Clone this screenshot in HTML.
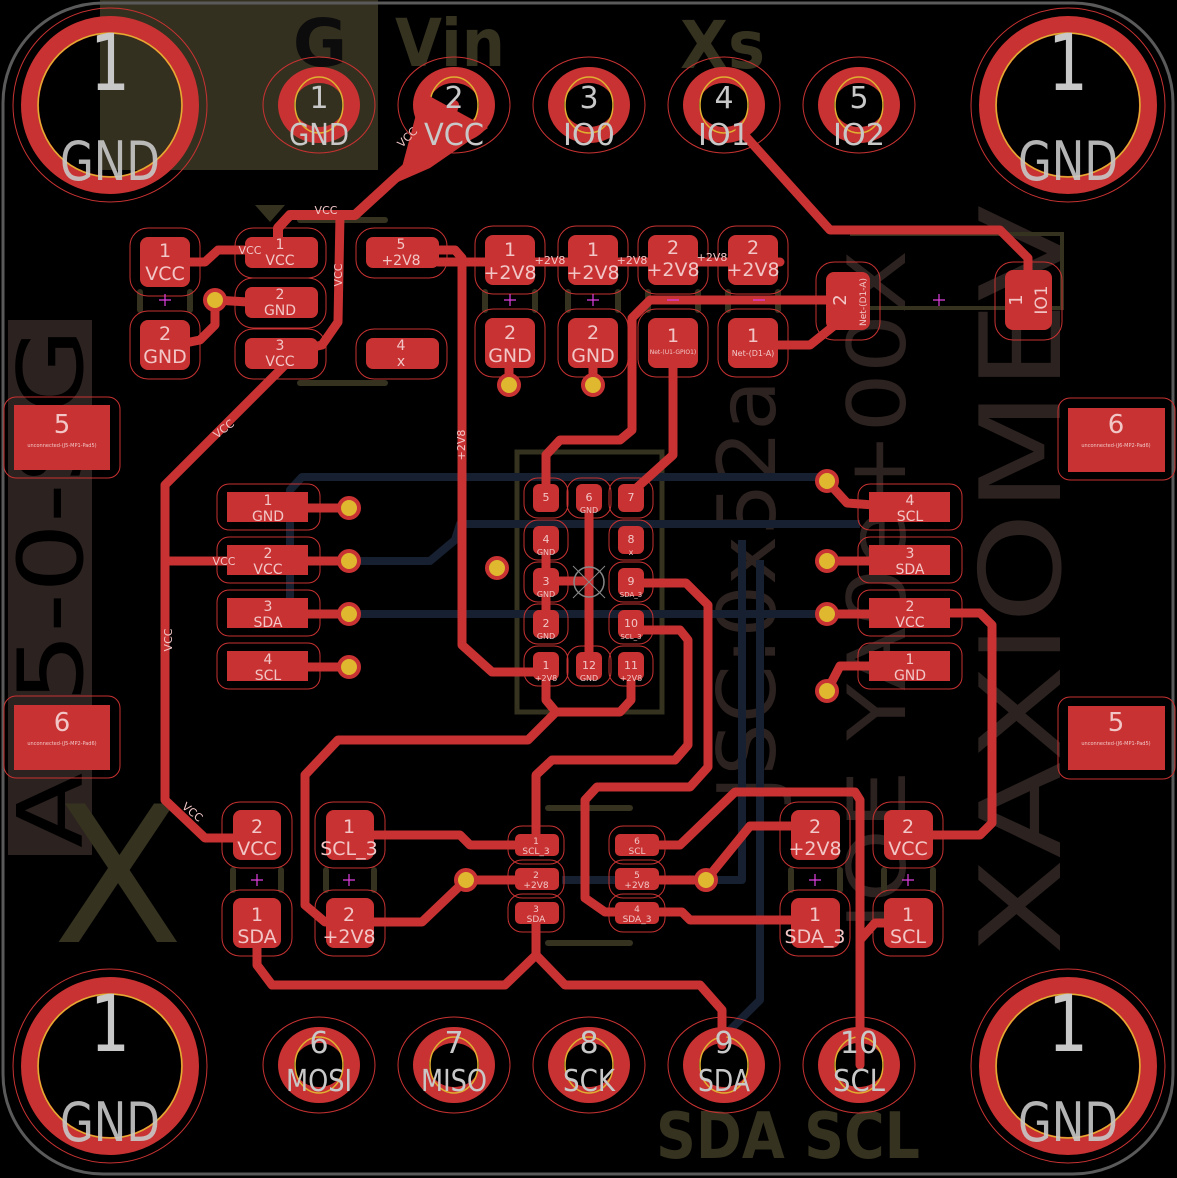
<!DOCTYPE html>
<html><head><meta charset="utf-8"><style>
html,body{margin:0;padding:0;background:#000;}
svg{display:block}
text{font-family:"DejaVu Sans","Liberation Sans",sans-serif;}
.pl{fill:#f2c6c6;text-anchor:middle}
.hl{fill:#c8c8c8;text-anchor:middle}
.o{fill:none;stroke:#c83232;stroke-width:1}
.t{fill:none;stroke:#c83232;stroke-width:9;stroke-linejoin:round;stroke-linecap:round}
.b{fill:none;stroke:#162030;stroke-width:8;stroke-linejoin:round}
.p{fill:#c83232}
.s{fill:none;stroke:#35321f;stroke-width:6;stroke-linecap:round}
.m{stroke:#e040e0;stroke-width:1.2}
</style></head><body>
<svg width="1177" height="1178" viewBox="0 0 1177 1178" xmlns="http://www.w3.org/2000/svg">
<rect width="1177" height="1178" fill="#000"/>
<rect x="100" y="0" width="278" height="170" fill="#34301f"/>
<rect x="8" y="320" width="84" height="535" fill="#2c2220"/>
<text x="320" y="66" font-size="66" font-weight="bold" fill="#0c0c0c" text-anchor="middle" font-family="Liberation Sans">G</text>
<text x="395" y="66" font-size="66" font-weight="bold" fill="#35321f" font-family="Liberation Sans" textLength="110" lengthAdjust="spacingAndGlyphs">Vin</text>
<text x="680" y="68" font-size="66" font-weight="bold" fill="#35321f" font-family="Liberation Sans" textLength="85" lengthAdjust="spacingAndGlyphs">Xs</text>
<text x="656" y="1158" font-size="64" font-weight="bold" fill="#35321f" font-family="Liberation Sans" textLength="264" lengthAdjust="spacingAndGlyphs">SDA SCL</text>
<text transform="translate(82,848) rotate(-90)" font-size="90" fill="#000" font-family="Liberation Sans" textLength="520" lengthAdjust="spacingAndGlyphs">AS5-0-SG</text>
<text transform="translate(1060,955) rotate(-90)" font-size="112" fill="#2c2220" font-family="Liberation Sans" textLength="750" lengthAdjust="spacingAndGlyphs">XAXIOMEV</text>
<text transform="translate(775,800) rotate(-90)" font-size="80" fill="#2c2220" font-family="Liberation Sans" textLength="420" lengthAdjust="spacingAndGlyphs">JSC:0x52a</text>
<text transform="translate(905,930) rotate(-90)" font-size="80" fill="#2c2220" font-family="Liberation Sans" textLength="680" lengthAdjust="spacingAndGlyphs">JOE YA0e+00X</text>
<text x="118" y="942" font-size="190" fill="#35321f" text-anchor="middle" font-family="Liberation Sans">X</text>
<rect x="3" y="3" width="1170" height="1171" rx="100" fill="none" stroke="#5a5a5a" stroke-width="3"/>
<polyline points="850,234 1062,234 1062,308 850,308" fill="none" stroke="#35321f" stroke-width="4"/>
<rect x="517" y="452" width="145" height="260" fill="none" stroke="#35321f" stroke-width="5"/>
<path d="M255,205 L285,205 L270,222Z" fill="#35321f"/>
<line class="s" x1="300" y1="220" x2="385" y2="220"/><line class="s" x1="300" y1="383" x2="385" y2="383"/>
<line class="s" x1="548" y1="808" x2="630" y2="808"/><line class="s" x1="548" y1="943" x2="630" y2="943"/>
<g class="s"><line x1="140" y1="292" x2="140" y2="310"/><line x1="190" y1="292" x2="190" y2="310"/>
<line x1="485" y1="292" x2="485" y2="310"/><line x1="535" y1="292" x2="535" y2="310"/>
<line x1="568" y1="292" x2="568" y2="310"/><line x1="618" y1="292" x2="618" y2="310"/>
<line x1="648" y1="292" x2="648" y2="310"/><line x1="698" y1="292" x2="698" y2="310"/>
<line x1="728" y1="292" x2="728" y2="310"/><line x1="778" y1="292" x2="778" y2="310"/>
<line x1="233" y1="870" x2="233" y2="890"/><line x1="281" y1="870" x2="281" y2="890"/>
<line x1="326" y1="870" x2="326" y2="890"/><line x1="374" y1="870" x2="374" y2="890"/>
<line x1="791" y1="870" x2="791" y2="890"/><line x1="840" y1="870" x2="840" y2="890"/>
<line x1="884" y1="870" x2="884" y2="890"/><line x1="933" y1="870" x2="933" y2="890"/></g>
<g class="b">
<polyline points="290,600 290,490 302,477 827,477"/>
<polyline points="349,614 827,614"/>
<polyline points="349,561 430,561 455,540 460,524 860,524"/>
<polyline points="742,540 742,880 610,880"/>
<polyline points="760,560 760,1000 730,1030"/>
<line x1="562" y1="880" x2="610" y2="880"/>
</g>
<g id="mh">
<circle cx="110" cy="105" r="97" class="o"/><circle cx="110" cy="105" r="80" fill="none" stroke="#c83232" stroke-width="18"/><circle cx="110" cy="105" r="72" fill="none" stroke="#e0b030" stroke-width="1.5"/>
<text x="110" y="90" font-size="78" class="hl" textLength="40" lengthAdjust="spacingAndGlyphs">1</text><text x="110" y="180" font-size="54" class="hl" opacity="0.9" textLength="100" lengthAdjust="spacingAndGlyphs">GND</text>
</g>
<use href="#mh" x="958"/><use href="#mh" y="961"/><use href="#mh" x="958" y="961"/>
<g id="hp"><ellipse cx="319" cy="105" rx="56" ry="48" class="o"/><ellipse cx="319" cy="105" rx="33" ry="30" fill="none" stroke="#c83232" stroke-width="16"/><ellipse cx="319" cy="105" rx="24" ry="28" fill="none" stroke="#e0b030" stroke-width="1.5"/></g>
<use href="#hp" x="135"/><use href="#hp" x="270"/><use href="#hp" x="405"/><use href="#hp" x="540"/>
<use href="#hp" y="960"/><use href="#hp" x="135" y="960"/><use href="#hp" x="270" y="960"/><use href="#hp" x="405" y="960"/><use href="#hp" x="540" y="960"/>
<g class="t">
<path d="M454,105 L445,135 L415,160 L355,215 L290,215 L278,228 L278,245" stroke-width="10"/>
<polyline points="340,215 338,322 322,345 300,350"/>
<polyline points="190,262 205,262 218,250 248,250"/>
<polyline points="215,300 248,302"/><polyline points="215,300 215,325 200,340 190,342"/>
<polyline points="290,360 165,485 165,800 205,838 240,838"/>
<polyline points="165,561 240,561"/>
<polyline points="438,250 455,250 462,258 462,645 492,672 540,672"/>
<polyline points="438,262 780,262"/>
<polyline points="509,345 509,385"/><polyline points="593,345 593,385"/>
<polyline points="840,300 650,300 632,318 632,430 620,440 560,440 546,455 546,495"/>
<polyline points="760,345 810,345 835,325"/>
<polyline points="673,345 673,455 632,492"/>
<polyline points="740,130 830,230 1000,230 1028,258 1028,280"/>
<polyline points="546,539 546,623"/><polyline points="589,497 589,665"/><polyline points="546,581 589,581"/>
<polyline points="631,583 686,583 708,605 708,767 690,787 597,787 585,800 585,898 605,912 637,912"/>
<polyline points="631,630 680,630 688,640 688,745 675,760 552,760 536,775 536,845"/>
<polyline points="546,672 546,700 556,712 620,712 631,700 631,672"/>
<polyline points="556,712 528,740 338,740 305,775 305,905 325,922 349,922"/>
<polyline points="349,922 422,922 466,880 536,880"/>
<polyline points="349,835 460,835 470,845 536,845"/>
<polyline points="637,880 706,880 750,826 815,826"/>
<polyline points="637,845 680,845 735,792 855,792 860,800 860,1065"/>
<polyline points="908,923 875,923 860,940"/>
<polyline points="257,923 257,965 272,985 505,985 536,955 536,913 536,955 565,985 700,985 722,1010 722,1045"/>
<polyline points="908,835 980,835 992,823 992,625 980,613 910,613"/>
<polyline points="637,912 682,912 690,920 815,920"/>
<polyline points="827,481 847,503 900,507"/><polyline points="827,561 900,561"/><polyline points="827,614 900,614"/><polyline points="827,691 840,666 900,666"/>
<polyline points="268,508 349,508"/><polyline points="268,561 349,561"/><polyline points="268,614 349,614"/><polyline points="268,667 349,667"/>
</g>
<path d="M422,92 L488,128 L430,168 L398,182 Z" fill="#c83232"/>
<g>
<rect x="130" y="228" width="70" height="68" rx="18" class="o"/><rect x="140" y="237" width="50" height="50" rx="8" class="p"/>
<rect x="130" y="311" width="70" height="68" rx="18" class="o"/><rect x="140" y="320" width="50" height="50" rx="8" class="p"/>
<rect x="235" y="228" width="91" height="50" rx="18" class="o"/><rect x="245" y="237" width="73" height="31" rx="7" class="p"/>
<rect x="235" y="278" width="91" height="50" rx="18" class="o"/><rect x="245" y="287" width="73" height="31" rx="7" class="p"/>
<rect x="235" y="329" width="91" height="50" rx="18" class="o"/><rect x="245" y="338" width="73" height="31" rx="7" class="p"/>
<rect x="356" y="228" width="91" height="50" rx="18" class="o"/><rect x="366" y="237" width="73" height="31" rx="7" class="p"/>
<rect x="356" y="329" width="91" height="50" rx="18" class="o"/><rect x="366" y="338" width="73" height="31" rx="7" class="p"/>
<rect x="475" y="226" width="70" height="68" rx="18" class="o"/><rect x="485" y="235" width="50" height="50" rx="8" class="p"/>
<rect x="558" y="226" width="70" height="68" rx="18" class="o"/><rect x="568" y="235" width="50" height="50" rx="8" class="p"/>
<rect x="638" y="226" width="70" height="68" rx="18" class="o"/><rect x="648" y="235" width="50" height="50" rx="8" class="p"/>
<rect x="718" y="226" width="70" height="68" rx="18" class="o"/><rect x="728" y="235" width="50" height="50" rx="8" class="p"/>
<rect x="475" y="309" width="70" height="68" rx="18" class="o"/><rect x="485" y="318" width="50" height="50" rx="8" class="p"/>
<rect x="558" y="309" width="70" height="68" rx="18" class="o"/><rect x="568" y="318" width="50" height="50" rx="8" class="p"/>
<rect x="638" y="309" width="70" height="68" rx="18" class="o"/><rect x="648" y="318" width="50" height="50" rx="8" class="p"/>
<rect x="718" y="309" width="70" height="68" rx="18" class="o"/><rect x="728" y="318" width="50" height="50" rx="8" class="p"/>
<rect x="816" y="262" width="64" height="78" rx="18" class="o"/><rect x="826" y="272" width="44" height="58" rx="8" class="p"/>
<rect x="995" y="262" width="67" height="78" rx="18" class="o"/><rect x="1005" y="270" width="47" height="60" rx="8" class="p"/>
<rect x="4" y="397" width="116" height="81" rx="12" class="o"/><rect x="14" y="405" width="96" height="65" class="p"/>
<rect x="4" y="696" width="116" height="82" rx="12" class="o"/><rect x="14" y="705" width="96" height="65" class="p"/>
<rect x="1058" y="398" width="117" height="82" rx="12" class="o"/><rect x="1068" y="408" width="97" height="64" class="p"/>
<rect x="1058" y="697" width="117" height="82" rx="12" class="o"/><rect x="1068" y="706" width="97" height="64" class="p"/>
<rect x="217" y="484" width="103" height="46" rx="12" class="o"/><rect x="227" y="492" width="81" height="30" class="p"/>
<rect x="217" y="537" width="103" height="46" rx="12" class="o"/><rect x="227" y="545" width="81" height="30" class="p"/>
<rect x="217" y="590" width="103" height="46" rx="12" class="o"/><rect x="227" y="598" width="81" height="30" class="p"/>
<rect x="217" y="643" width="103" height="46" rx="12" class="o"/><rect x="227" y="651" width="81" height="30" class="p"/>
<rect x="858" y="484" width="104" height="46" rx="12" class="o"/><rect x="869" y="492" width="81" height="30" class="p"/>
<rect x="858" y="537" width="104" height="46" rx="12" class="o"/><rect x="869" y="545" width="81" height="30" class="p"/>
<rect x="858" y="590" width="104" height="46" rx="12" class="o"/><rect x="869" y="598" width="81" height="30" class="p"/>
<rect x="858" y="643" width="104" height="46" rx="12" class="o"/><rect x="869" y="651" width="81" height="30" class="p"/>
<rect x="222" y="802" width="70" height="66" rx="18" class="o"/><rect x="233" y="810" width="48" height="50" rx="8" class="p"/>
<rect x="222" y="890" width="70" height="66" rx="18" class="o"/><rect x="233" y="898" width="48" height="50" rx="8" class="p"/>
<rect x="315" y="802" width="70" height="66" rx="18" class="o"/><rect x="326" y="810" width="48" height="50" rx="8" class="p"/>
<rect x="315" y="890" width="70" height="66" rx="18" class="o"/><rect x="326" y="898" width="48" height="50" rx="8" class="p"/>
<rect x="780" y="802" width="70" height="66" rx="18" class="o"/><rect x="791" y="810" width="49" height="50" rx="8" class="p"/>
<rect x="780" y="890" width="70" height="66" rx="18" class="o"/><rect x="791" y="898" width="49" height="50" rx="8" class="p"/>
<rect x="873" y="802" width="70" height="66" rx="18" class="o"/><rect x="884" y="810" width="49" height="50" rx="8" class="p"/>
<rect x="873" y="890" width="70" height="66" rx="18" class="o"/><rect x="884" y="898" width="49" height="50" rx="8" class="p"/>
<rect x="508" y="826" width="56" height="38" rx="14" class="o"/><rect x="515" y="834" width="44" height="22" rx="5" class="p"/>
<rect x="508" y="860" width="56" height="38" rx="14" class="o"/><rect x="515" y="868" width="44" height="22" rx="5" class="p"/>
<rect x="508" y="894" width="56" height="38" rx="14" class="o"/><rect x="515" y="902" width="44" height="22" rx="5" class="p"/>
<rect x="609" y="826" width="56" height="38" rx="14" class="o"/><rect x="615" y="834" width="44" height="22" rx="5" class="p"/>
<rect x="609" y="860" width="56" height="38" rx="14" class="o"/><rect x="615" y="868" width="44" height="22" rx="5" class="p"/>
<rect x="609" y="894" width="56" height="38" rx="14" class="o"/><rect x="615" y="902" width="44" height="22" rx="5" class="p"/>
</g>
<g id="ic">
<rect x="524" y="478" width="44" height="40" rx="14" class="o"/><rect x="533" y="484" width="26" height="28" rx="6" class="p"/>
</g>
<use href="#ic" y="42"/><use href="#ic" y="84"/><use href="#ic" y="126"/><use href="#ic" y="168"/>
<use href="#ic" x="43"/><use href="#ic" x="43" y="168"/>
<use href="#ic" x="85"/><use href="#ic" x="85" y="42"/><use href="#ic" x="85" y="84"/><use href="#ic" x="85" y="126"/><use href="#ic" x="85" y="168"/>
<circle cx="589" cy="582" r="15" fill="none" stroke="#888" stroke-width="1.5"/>
<line x1="573" y1="566" x2="605" y2="598" stroke="#888"/><line x1="605" y1="566" x2="573" y2="598" stroke="#888"/>
<g fill="#e0b830" stroke="#c83232" stroke-width="4">
<circle cx="215" cy="300" r="10"/><circle cx="509" cy="385" r="10"/><circle cx="593" cy="385" r="10"/>
<circle cx="349" cy="508" r="10"/><circle cx="349" cy="561" r="10"/><circle cx="349" cy="614" r="10"/><circle cx="349" cy="667" r="10"/>
<circle cx="827" cy="481" r="10"/><circle cx="827" cy="561" r="10"/><circle cx="827" cy="614" r="10"/><circle cx="827" cy="691" r="10"/>
<circle cx="497" cy="568" r="10"/><circle cx="466" cy="880" r="10"/><circle cx="706" cy="880" r="10"/>
</g>
<g class="m">
<path d="M159,300h12M165,294v12M504,300h12M510,294v12M587,300h12M593,294v12M667,300h12M753,300h12M933,300h12M939,294v12M251,880h12M257,874v12M343,880h12M349,874v12M809,880h12M815,874v12M902,880h12M908,874v12"/>
</g>
<g font-size="30" class="hl">
<text x="319" y="108">1</text><text x="319" y="145" textLength="60" lengthAdjust="spacingAndGlyphs">GND</text>
<text x="454" y="108">2</text><text x="454" y="145" textLength="60" lengthAdjust="spacingAndGlyphs">VCC</text>
<text x="589" y="108">3</text><text x="589" y="145" textLength="52" lengthAdjust="spacingAndGlyphs">IO0</text>
<text x="724" y="108">4</text><text x="724" y="145" textLength="52" lengthAdjust="spacingAndGlyphs">IO1</text>
<text x="859" y="108">5</text><text x="859" y="145" textLength="52" lengthAdjust="spacingAndGlyphs">IO2</text>
<text x="319" y="1053">6</text><text x="319" y="1091" textLength="66" lengthAdjust="spacingAndGlyphs">MOSI</text>
<text x="454" y="1053">7</text><text x="454" y="1091" textLength="66" lengthAdjust="spacingAndGlyphs">MISO</text>
<text x="589" y="1053">8</text><text x="589" y="1091" textLength="52" lengthAdjust="spacingAndGlyphs">SCK</text>
<text x="724" y="1053">9</text><text x="724" y="1091" textLength="52" lengthAdjust="spacingAndGlyphs">SDA</text>
<text x="859" y="1053">10</text><text x="859" y="1091" textLength="52" lengthAdjust="spacingAndGlyphs">SCL</text>
</g>
<g class="pl" font-size="19">
<text x="165" y="257">1</text><text x="165" y="280">VCC</text>
<text x="165" y="340">2</text><text x="165" y="363">GND</text>
<text x="510" y="256">1</text><text x="510" y="279">+2V8</text>
<text x="593" y="256">1</text><text x="593" y="279">+2V8</text>
<text x="673" y="254">2</text><text x="673" y="276">+2V8</text>
<text x="753" y="254">2</text><text x="753" y="276">+2V8</text>
<text x="510" y="339">2</text><text x="510" y="362">GND</text>
<text x="593" y="339">2</text><text x="593" y="362">GND</text>
<text x="673" y="342">1</text><text x="753" y="342">1</text>
<text x="257" y="833">2</text><text x="257" y="855">VCC</text>
<text x="257" y="921">1</text><text x="257" y="943">SDA</text>
<text x="349" y="833">1</text><text x="349" y="855">SCL_3</text>
<text x="349" y="921">2</text><text x="349" y="943">+2V8</text>
<text x="815" y="833">2</text><text x="815" y="855">+2V8</text>
<text x="815" y="921">1</text><text x="815" y="943">SDA_3</text>
<text x="908" y="833">2</text><text x="908" y="855">VCC</text>
<text x="908" y="921">1</text><text x="908" y="943">SCL</text>
</g>
<g class="pl" font-size="14">
<text x="280" y="249">1</text><text x="280" y="265">VCC</text>
<text x="280" y="299">2</text><text x="280" y="315">GND</text>
<text x="280" y="350">3</text><text x="280" y="366">VCC</text>
<text x="401" y="249">5</text><text x="401" y="265">+2V8</text>
<text x="401" y="350">4</text><text x="401" y="366">x</text>
<text x="268" y="505">1</text><text x="268" y="521">GND</text>
<text x="268" y="558">2</text><text x="268" y="574">VCC</text>
<text x="268" y="611">3</text><text x="268" y="627">SDA</text>
<text x="268" y="664">4</text><text x="268" y="680">SCL</text>
<text x="910" y="505">4</text><text x="910" y="521">SCL</text>
<text x="910" y="558">3</text><text x="910" y="574">SDA</text>
<text x="910" y="611">2</text><text x="910" y="627">VCC</text>
<text x="910" y="664">1</text><text x="910" y="680">GND</text>
<text x="62" y="433" font-size="26">5</text><text x="62" y="731" font-size="26">6</text>
<text x="1116" y="433" font-size="26">6</text><text x="1116" y="731" font-size="26">5</text>
<text x="326" y="214" font-size="11">VCC</text><text x="250" y="254" font-size="11">VCC</text>
<text x="550" y="264" font-size="11">+2V8</text><text x="632" y="264" font-size="11">+2V8</text><text x="712" y="261" font-size="11">+2V8</text>
<text x="224" y="565" font-size="11">VCC</text>
</g>
<g class="pl" font-size="5">
<text x="62" y="447">unconnected-(J5-MP1-Pad5)</text><text x="62" y="745">unconnected-(J5-MP2-Pad6)</text>
<text x="1116" y="447">unconnected-(J6-MP2-Pad6)</text><text x="1116" y="745">unconnected-(J6-MP1-Pad5)</text>
<text x="673" y="354" font-size="6">Net-(U1-GPIO1)</text><text x="753" y="356" font-size="8">Net-(D1-A)</text>
</g>
<g class="pl">
<text transform="translate(846,300) rotate(-90)" font-size="18">2</text>
<text transform="translate(866,302) rotate(-90)" font-size="9">Net-(D1-A)</text>
<text transform="translate(1022,300) rotate(-90)" font-size="18">1</text>
<text transform="translate(1047,300) rotate(-90)" font-size="17">IO1</text>
<text transform="translate(410,140) rotate(-45)" font-size="11">VCC</text>
<text transform="translate(342,275) rotate(-90)" font-size="11">VCC</text>
<text transform="translate(465,445) rotate(-90)" font-size="11">+2V8</text>
<text transform="translate(226,432) rotate(-38)" font-size="11">VCC</text>
<text transform="translate(172,640) rotate(-90)" font-size="11">VCC</text>
<text transform="translate(190,815) rotate(40)" font-size="11">VCC</text>
</g>
<g class="pl" font-size="11">
<text x="546" y="501">5</text><text x="589" y="501">6</text><text x="589" y="513" font-size="8">GND</text><text x="631" y="501">7</text>
<text x="546" y="543">4</text><text x="546" y="555" font-size="8">GND</text><text x="631" y="543">8</text><text x="631" y="555" font-size="8">x</text>
<text x="546" y="585">3</text><text x="546" y="597" font-size="8">GND</text><text x="631" y="585">9</text><text x="631" y="597" font-size="7">SDA_3</text>
<text x="546" y="627">2</text><text x="546" y="639" font-size="8">GND</text><text x="631" y="627">10</text><text x="631" y="639" font-size="7">SCL_3</text>
<text x="546" y="669">1</text><text x="546" y="681" font-size="8">+2V8</text><text x="589" y="669">12</text><text x="589" y="681" font-size="8">GND</text><text x="631" y="669">11</text><text x="631" y="681" font-size="8">+2V8</text>
<text x="536" y="844" font-size="9">1</text><text x="536" y="854" font-size="9">SCL_3</text>
<text x="536" y="878" font-size="9">2</text><text x="536" y="888" font-size="9">+2V8</text>
<text x="536" y="912" font-size="9">3</text><text x="536" y="922" font-size="9">SDA</text>
<text x="637" y="844" font-size="9">6</text><text x="637" y="854" font-size="9">SCL</text>
<text x="637" y="878" font-size="9">5</text><text x="637" y="888" font-size="9">+2V8</text>
<text x="637" y="912" font-size="9">4</text><text x="637" y="922" font-size="9">SDA_3</text>
</g>
</svg>
</body></html>
